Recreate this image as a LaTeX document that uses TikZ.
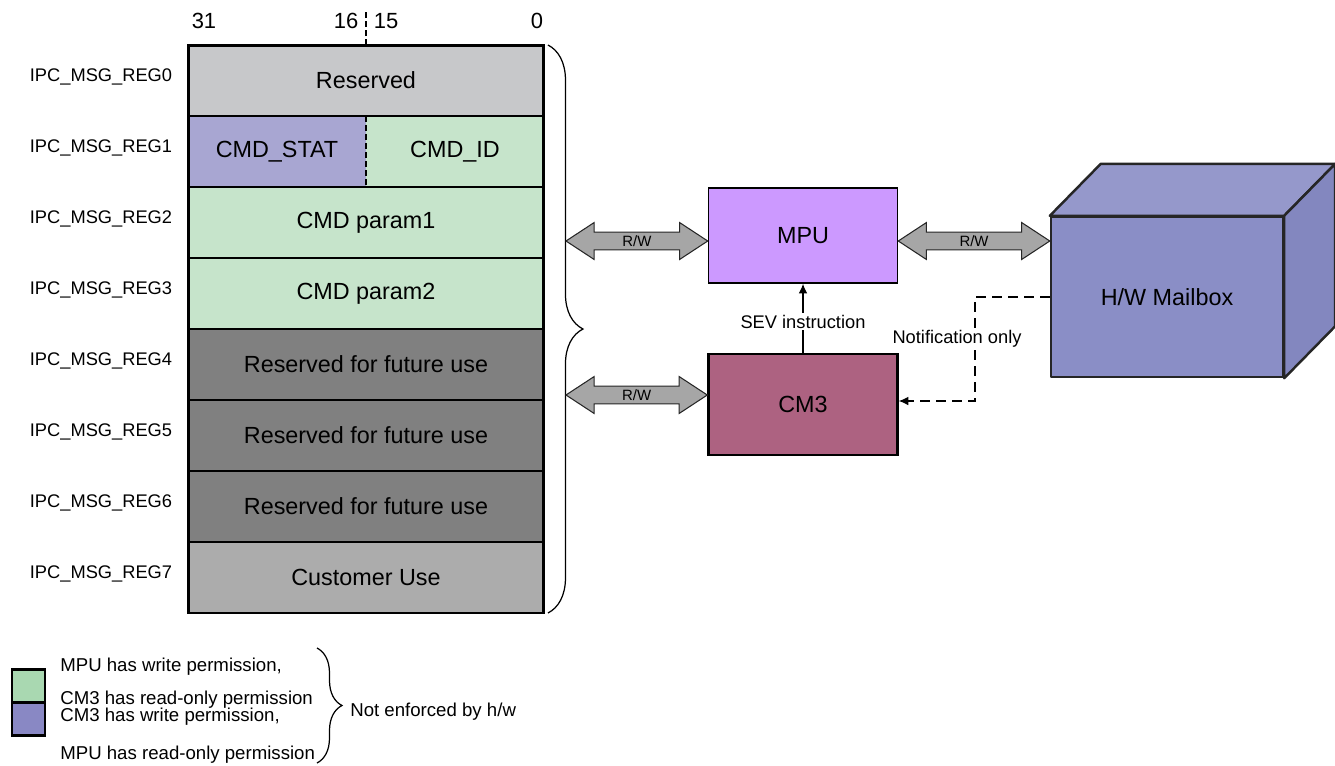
\documentclass[tikz,border=0pt]{standalone}
\usepackage{fontspec}
\setmainfont{Liberation Sans}
\usetikzlibrary{arrows.meta,positioning,calc,decorations.pathreplacing}
\definecolor{resgray}{HTML}{C7C8CA}
\definecolor{statpurple}{HTML}{A8A6D2}
\definecolor{cmdgreen}{HTML}{C6E4CB}
\definecolor{futgray}{HTML}{808080}
\definecolor{custgray}{HTML}{ACACAC}
\definecolor{mpupurple}{HTML}{CC99FF}
\definecolor{cmthree}{HTML}{AD6281}
\definecolor{arrowgray}{HTML}{A6A6A6}
\definecolor{boxfront}{HTML}{8A8EC6}
\definecolor{boxtop}{HTML}{9598CB}
\definecolor{boxside}{HTML}{8387BF}
\definecolor{leggreen}{HTML}{A9D8B1}
\definecolor{legpurple}{HTML}{8988C4}
\newcommand{\mainfont}{\fontsize{13.3}{16}\selectfont}
\newcommand{\smallfont}{\fontsize{10.4}{12.5}\selectfont}
% block double arrow at the height of #1, from #1 to #2
\newcommand{\rwlink}[2]{%
  \draw[rwshape] let \p1=(#1), \p2=(#2) in
    (\x1,\y1) -- (\x1+16pt,\y1+10.5pt) -- (\x1+16pt,\y1+5.1pt) -- (\x2-16pt,\y1+5.1pt)
    -- (\x2-16pt,\y1+10.5pt) -- (\x2,\y1) -- (\x2-16pt,\y1-10.5pt) -- (\x2-16pt,\y1-5.1pt)
    -- (\x1+16pt,\y1-5.1pt) -- (\x1+16pt,\y1-10.5pt) -- cycle;
  \path let \p1=(#1), \p2=(#2) in node[rwlabel] at ({(\x1+\x2)/2},\y1) {R/W};
}
\tikzset{
  regrow/.style={minimum width=7.12cm, minimum height=1.42cm, inner sep=0pt, outer sep=0pt, font=\mainfont},
  reghalf/.style={regrow, minimum width=3.56cm},
  reglabel/.style={font=\smallfont},
  bitnum/.style={font=\fontsize{12.5}{15}\selectfont},
  rowline/.style={line width=0.6pt},
  rowdash/.style={line width=0.6pt, dash pattern=on 3.4pt off 1.7pt},
  cpubox/.style={draw, line width=0.9pt, minimum width=3.78cm, minimum height=1.9cm, font=\mainfont},
  rwshape/.style={draw=black!85, fill=arrowgray, line width=0.6pt},
  rwlabel/.style={font=\fontsize{8.5}{10}\selectfont, inner sep=0pt},
  sevarrow/.style={-{Latex[length=5.5pt,width=5pt]}, line width=0.7pt},
  notify/.style={-{Latex[length=5.5pt,width=5pt]}, line width=0.7pt, dash pattern=on 5.7pt off 3.4pt},
  cubeline/.style={draw=black!85, line width=1.4pt, line join=round},
  legbox/.style={draw, line width=1.5pt, minimum size=0.66cm, inner sep=0pt, outer sep=0pt},
  legtext/.style={anchor=west, font=\fontsize{10.6}{13}\selectfont, inner sep=0pt},
  regbrace/.style={decorate, decoration={brace, amplitude=0.7cm}, line width=0.7pt},
  legbrace/.style={decorate, decoration={brace, amplitude=0.5cm}, line width=0.7pt}
}
\begin{document}
\begin{tikzpicture}[x=0.02cm, y=-0.02cm]
\useasboundingbox (0,0) rectangle (1335,765);
% register rows
\node[regrow, fill=resgray] (r0) at (366,80.5) {Reserved};
\node[reghalf, fill=statpurple] (r1a) at (277,151.5) {CMD\_STAT};
\node[reghalf, fill=cmdgreen] (r1b) at (455,151.5) {CMD\_ID};
\foreach \i/\txt/\col in {2/CMD param1/cmdgreen, 3/CMD param2/cmdgreen,
    4/Reserved for future use/futgray, 5/Reserved for future use/futgray,
    6/Reserved for future use/futgray, 7/Customer Use/custgray}
  \node[regrow, fill=\col] (r\i) at (366,{80.5+71*\i}) {\txt};
\draw[rowline] (r0.south west) -- (r0.south east);
\foreach \n in {r2,r3,r4,r5,r6,r7}
  \draw[rowline] (\n.north west) -- (\n.north east);
\draw[rowdash] (r1a.north east) -- (r1a.south east);
\draw[rowdash] (r0.north) -- ++(0,-34);
\draw[line width=1.7pt] (r0.north west) rectangle (r7.south east);

% bit positions
\node[bitnum] (b31) at (204,21) {31};
\node[bitnum] (b16) at (346,21) {16};
\node[bitnum] (b15) at (386,21) {15};
\node[bitnum] (b0) at (537,21) {0};

% register names
\foreach \i in {0,...,7}
  \node[reglabel] (lab\i) at (101,{76.5+71*\i}) {IPC\_MSG\_REG\i};

% brace
\draw[regbrace] ([xshift=0.08cm]r0.north east) -- ([xshift=0.08cm]r7.south east);
\coordinate (bmpu) at (566,241);
\coordinate (bcm3) at (566,395);

% cores
\node[cpubox, fill=mpupurple] (mpu) at (803,235.5) {MPU};
\node[cpubox, fill=cmthree, line width=1.4pt, minimum height=2.02cm] (cm3) at (803,404.5) {CM3};

% mailbox cube
\node[cubeline, fill=boxfront, minimum width=4.64cm, minimum height=3.2cm, font=\mainfont] (box) at (1167,297) {H/W Mailbox};
\draw[cubeline, fill=boxtop] (box.north west) -- ($(box.north west)+(51,-52)$)
  -- ($(box.north east)+(51,-52)$) -- (box.north east) -- cycle;
\draw[cubeline, fill=boxside] (box.north east) -- ($(box.north east)+(51,-52)$)
  -- ($(box.south east)+(51,-52)$) -- (box.south east) -- cycle;

% links
\rwlink{bmpu}{mpu.west}
\rwlink{mpu.east |- bmpu}{box.west}
\rwlink{bcm3}{cm3.west}
\draw[sevarrow] (cm3.north) -- (mpu.south)
  node[pos=0.45, fill=white, font=\smallfont, inner sep=1pt] (sev) {SEV instruction};
\coordinate (nbend) at (975,401);
\draw[notify] (box.west) -| (nbend) -- (cm3.east |- nbend);
\node[fill=white, font=\smallfont, inner sep=1pt] (note) at (957,339) {Notification only};

% legend
\node[legbox, fill=leggreen] (lgreen) at (28.5,686) {};
\node[legbox, fill=legpurple, below=0pt of lgreen] (lpurple) {};
\node[legtext] (lt1) at (60,667) {MPU has write permission,};
\node[legtext] (lt2) at (60,700) {CM3 has read-only permission};
\node[legtext] (lt3) at (60,717) {CM3 has write permission,};
\node[legtext] (lt4) at (60,755) {MPU has read-only permission};
\draw[legbrace] (317,648) -- (317,763);
\node[legtext] (lnote) at (350,712) {Not enforced by h/w};
\end{tikzpicture}
\end{document}
